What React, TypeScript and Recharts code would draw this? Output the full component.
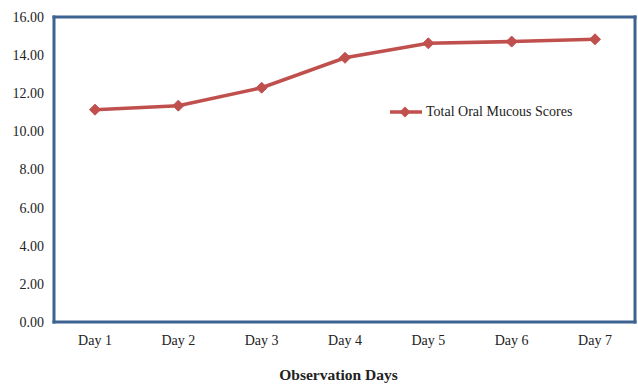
import React from "react";
import { LineChart, Line, XAxis, YAxis, Legend } from "recharts";

const days = ["Day 1", "Day 2", "Day 3", "Day 4", "Day 5", "Day 6", "Day 7"];
const scores = [11.14, 11.35, 12.29, 13.86, 14.62, 14.71, 14.83];
const yTicks = [0, 2, 4, 6, 8, 10, 12, 14, 16];
const seriesName = "Total Oral Mucous Scores";

const data = days.map((d, i) => ({ day: d, score: scores[i] }));

const FONT = '"Liberation Serif", "Times New Roman", serif';
const LINE_COLOR = "#c0504d";
const FRAME = "#3d6391";

const Diamond = (props: any) => {
  const { cx, cy } = props;
  if (cx == null || cy == null) return null;
  const r = 5.5;
  return (
    <polygon
      points={`${cx},${cy - r} ${cx + r},${cy} ${cx},${cy + r} ${cx - r},${cy}`}
      fill={LINE_COLOR}
      stroke={LINE_COLOR}
    />
  );
};

const renderLegend = (props: any) => {
  const { payload } = props;
  return (
    <div style={{ display: "flex", alignItems: "center", fontFamily: FONT, fontSize: 14, color: "#222" }}>
      {(payload || [])
        .filter((p: any) => p.type !== "none")
        .map((p: any) => (
          <div key={p.value} style={{ display: "flex", alignItems: "center" }}>
            <svg width={34} height={14}>
              <line x1={1} y1={7} x2={33} y2={7} stroke={LINE_COLOR} strokeWidth={3.5} />
              <polygon points="16,1.5 21.5,7 16,12.5 10.5,7" fill={LINE_COLOR} />
            </svg>
            <span style={{ marginLeft: 3 }}>{p.value}</span>
          </div>
        ))}
    </div>
  );
};

const frameLine = { stroke: FRAME, strokeWidth: 3, strokeLinecap: "square" as const };

export default function App() {
  return (
    <div style={{ position: "absolute", left: 0, top: 0, width: 638, height: 384 }}>
      <LineChart width={638} height={384} data={data} margin={{ top: 16, right: 2, bottom: 4, left: 8 }}>
        <XAxis
          dataKey="day"
          padding={{ left: 41, right: 40 }}
          axisLine={frameLine}
          tickLine={false}
          tickMargin={7}
          height={58}
          tick={{ fill: "#222", fontSize: 14, fontFamily: FONT }}
          label={{
            value: "Observation Days",
            position: "insideBottom",
            offset: 0,
            dx: -6,
            style: { fontFamily: FONT, fontSize: 15.5, fontWeight: "bold", fill: "#222" },
          }}
        />
        <XAxis
          xAxisId="top"
          dataKey="day"
          orientation="top"
          height={1}
          padding={{ left: 41, right: 40 }}
          tick={false}
          tickLine={false}
          axisLine={frameLine}
        />
        <YAxis
          domain={[0, 16]}
          ticks={yTicks}
          width={46}
          axisLine={frameLine}
          tickLine={false}
          tickMargin={4}
          tickFormatter={(v: number) => v.toFixed(2)}
          tick={{ fill: "#222", fontSize: 14, fontFamily: FONT }}
          interval={0}
        />
        <YAxis
          yAxisId="right"
          orientation="right"
          domain={[0, 16]}
          width={1}
          tick={false}
          tickLine={false}
          axisLine={frameLine}
        />
        <Legend
          layout="horizontal"
          verticalAlign="middle"
          align="center"
          content={renderLegend}
          wrapperStyle={{ position: "absolute", left: 389, top: 104, width: "auto" }}
        />
        <Line
          xAxisId="top"
          yAxisId="right"
          dataKey="score"
          stroke="none"
          dot={false}
          activeDot={false}
          legendType="none"
          isAnimationActive={false}
        />
        <Line
          type="linear"
          dataKey="score"
          name={seriesName}
          stroke={LINE_COLOR}
          strokeWidth={3.5}
          dot={<Diamond />}
          activeDot={false}
          isAnimationActive={false}
        />
      </LineChart>
    </div>
  );
}
